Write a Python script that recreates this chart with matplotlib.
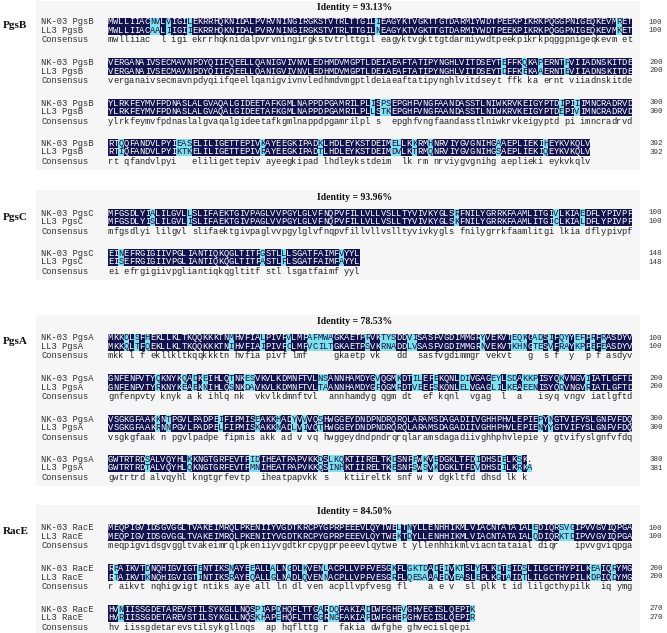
import matplotlib
matplotlib.use("Agg")
import matplotlib.pyplot as plt
from matplotlib.patches import Rectangle

proteins = ["PgsB", "PgsC", "PgsA", "RacE"]
identity = ["93.13%", "93.96%", "78.53%", "84.50%"]

# consensus per 100-residue block: lowercase = identical, space = mismatch;
# *_sub hold the residues of each strain at the mismatch positions, in order
pgsB_cons = [
    "mwlliiac  l igi ekrrhqknidalpvrvningirgkstvtrlttgil eagyktvgkttgtdarmiywdtpeekpikrkpqggpnigeqkevm et",
    "verganaivsecmavnpdyqiifqeellqanigvivnvledhmdvmgptldeiaeaftatipynghlvitdseyt ffk ka ernt viiadnskitde",
    "ylrkfeymvfpdnaslalgvaqalgideetafkgmlnappdpgamrilpl s  epghfvngfaandasstlniwkrvkeigyptd pi imncradrvd",
    "rt qfandvlpyi   eliligettepiv ayeegkipad lhdleykstdeim  lk rm nrviygvgnihg aeplieki eykvkqlv",
]
pgsB_nk_sub = ["NVVLIR", "EQPP", "IPSII", "QEASKKELKHAH"]
pgsB_ll3_sub = ["AAIINK", "DEAE", "LTKEV", "IKTKRTDVTQSQ"]
pgsB_nk_end = [100, 200, 300, 392]
pgsB_ll3_end = [100, 200, 300, 392]

pgsC_cons = [
    "mfgsdlyi lilgvl slifaektgivpaglvvpgylglvfnqpvfillvllvslltyvivkygls fnilygrrkfaamlitgi lkia dflypivpf",
    "ei efrgigiivpgliantiqkqgltitf stl lsgatfaimf yyl",
]
pgsC_nk_sub = ["ALRVE", "NGLV"]
pgsC_ll3_sub = ["SIKCL", "SAFA"]
pgsC_nk_end = [100, 148]
pgsC_ll3_end = [100, 148]

pgsA_cons = [
    "mkk l f ekllkltkqqkkktn hvfia pivf lmf     gkaetp vk   dd  sasfvgdimmgr vekvt   g  s f  y  p f asdyv",
    "gnfenpvty knyk a k ihlq nk  vkvlkdmnftvl  annhamdyg qgm dt  ef kqnl  vgag  l  a   isyq vngv iatlgftd",
    "vsgkgfaak n pgvlpadpe fipmis akk ad v vq hwggeydndpndrqrqlaramsdagadiivghhphvlepie y gtvifyslgnfvfdq",
    "gwtrtrd alvqyhl kngtgrfevtp  iheatpapvkk s   ktiireltk snf w v dgkltfd dhsd lk k ",
]
pgsA_nk_sub = ["DSHMLVAFMWARTYSVIYEQKADIQYEFRR", "QQDETESNSVKILEDIEYSDKKPKI",
               "KTIEHYVSPN", "SKIDDLKQDPKEIES."]
pgsA_ll3_sub = ["QTQIICVCILTSRNALVNKHNTEVRAKPEE", "REENSDATAFRVESELLIKEEENDR",
                "RNLKNLITNY", "TQMNQINHESSKVIRA"]
pgsA_nk_end = [100, 200, 300, 380]
pgsA_ll3_end = [100, 200, 300, 381]

racE_cons = [
    "meqpigvidsgvggltvakeimrqlpkeniiyvgdtkrcpygprpeeevlqytwe t yllenhhikmlviacntataial diqr   ipvvgviqpga",
    "r aikvt nqhigvigt ntiks aye all ln dl ven acpllvpfvesg fl    a e v  sl plk t id lilgcthypilk  iq ymg",
    "hv iissgdetarevstilsykgllnqs  ap hqflttg r  fakia dwfghe ghvecislqepi ",
]
racE_nk_sub = ["LNESVG", "RDENEAGKLKGKTDDIKTYDSSEAR", "NPIDADQDVK"]
racE_ll3_sub = ["KDQKTD", "TKIRQGAQNRQESAADEAEGATDPD", "RKHEGNGPPR"]
racE_nk_end = [100, 200, 270]
racE_ll3_end = [100, 200, 270]

alignments = [
    (pgsB_cons, pgsB_nk_sub, pgsB_ll3_sub, pgsB_nk_end, pgsB_ll3_end),
    (pgsC_cons, pgsC_nk_sub, pgsC_ll3_sub, pgsC_nk_end, pgsC_ll3_end),
    (pgsA_cons, pgsA_nk_sub, pgsA_ll3_sub, pgsA_nk_end, pgsA_ll3_end),
    (racE_cons, racE_nk_sub, racE_ll3_sub, racE_nk_end, racE_ll3_end),
]

# layout (pixels, y down)
W, H = 667, 633
title_y = [8, 197, 322, 512]
first_row_y = [22, 213, 338, 528]
block_gap = 40.5
row_gap = 8.5
cons_gap = 18
x_name, x_seq, x_num, cw = 41, 108, 649, 5.24
mono = "Liberation Mono"
fs = 6.3
NAVY, CYAN = "#13134f", "#7fe1e8"


def fill(cons, sub):
    assert cons.count(" ") == len(sub), (cons, sub)
    it = iter(sub)
    return "".join(next(it) if c == " " else c.upper() for c in cons)


fig = plt.figure(figsize=(W / 100, H / 100), dpi=100)
ax = fig.add_axes([0, 0, 1, 1])
ax.set_xlim(0, W)
ax.set_ylim(H, 0)
ax.axis("off")

for k, prot in enumerate(proteins):
    cons_blocks, nk_sub, ll3_sub, nk_end, ll3_end = alignments[k]
    y0 = first_row_y[k]
    last_y = y0 + (len(cons_blocks) - 1) * block_gap + cons_gap
    ax.add_patch(Rectangle((36, title_y[k] - 7), 604, last_y - title_y[k] + 15,
                           color="#f6f6f6", lw=0, zorder=0))
    ax.text(355, title_y[k], f"Identity = {identity[k]}", ha="center", va="center",
            family="Liberation Serif", weight="bold", size=7, color="#111111")
    ax.text(3, y0 + 4, prot, ha="left", va="center",
            family="Liberation Serif", weight="bold", size=8, color="#111111")

    for b, cons in enumerate(cons_blocks):
        yb = y0 + b * block_gap
        rows = [(f"NK-03 {prot}", fill(cons, nk_sub[b]), nk_end[b], yb),
                (f"LL3 {prot}", fill(cons, ll3_sub[b]), ll3_end[b], yb + row_gap)]
        for name, seq, end, y in rows:
            ax.text(x_name, y, name, ha="left", va="center", family=mono, size=fs, color="#333333")
            ax.text(x_num, y, str(end), ha="left", va="center", family=mono, size=5.4, color="#333333")
            for i, ch in enumerate(seq):
                if ch == ".":
                    bg, fg = None, "#222222"
                elif cons[i] != " ":
                    bg, fg = NAVY, "white"
                else:
                    bg, fg = CYAN, NAVY
                x = x_seq + i * cw
                if bg:
                    ax.add_patch(Rectangle((x, y - row_gap / 2), cw, row_gap, color=bg, lw=0, zorder=1))
                ax.text(x + cw / 2, y, ch, ha="center", va="center", family=mono,
                        size=fs, color=fg, zorder=2)
        yc = yb + cons_gap
        ax.text(x_name, yc, "Consensus", ha="left", va="center", family=mono, size=fs, color="#333333")
        for i, ch in enumerate(cons):
            if ch != " ":
                ax.text(x_seq + i * cw + cw / 2, yc, ch, ha="center", va="center",
                        family=mono, size=fs, color="#222222")

fig.savefig("out.png", dpi=100)
